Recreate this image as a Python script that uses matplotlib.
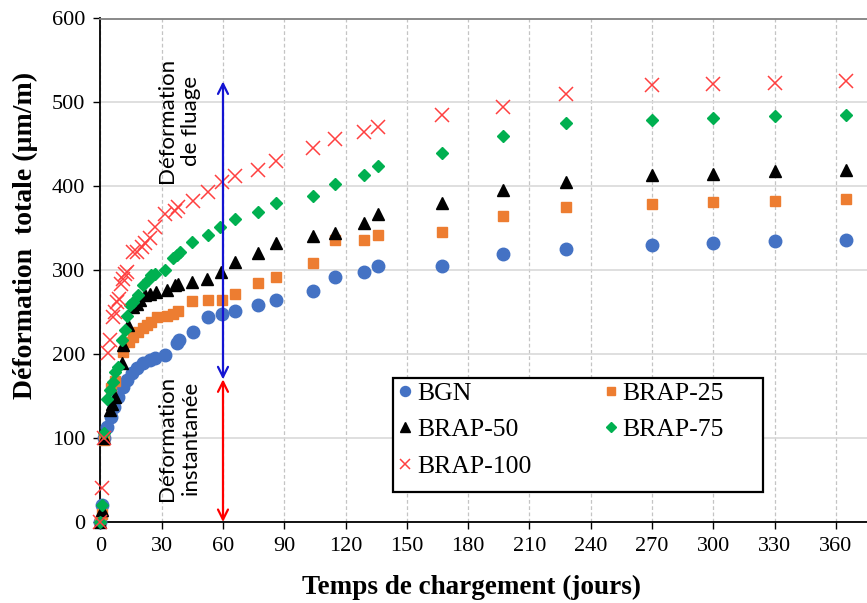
import matplotlib
matplotlib.use("Agg")
import matplotlib.pyplot as plt
from matplotlib.patches import Rectangle

# ---- data: total strain (µm/m) vs loading time (days) ----
days_bgn = [0, 1, 2, 3.4, 5, 6.8, 8.8, 11.2, 12.9, 15.3, 17.8, 21, 24.3, 26.7, 31.6,
            37.3, 38.6, 45.2, 52.8, 59.7, 66, 77, 86, 104, 115, 129, 136, 167, 197,
            228, 270, 300, 330, 365]
bgn = [0, 20, 100, 113, 125, 137, 149, 161, 169, 177, 183, 189, 193, 196, 199,
       213, 217, 226, 244, 248, 252, 259, 265, 275, 292, 298, 305, 305, 319,
       325, 330, 332, 335, 336]

days_25 = [0, 1, 2, 5, 7, 11, 14, 16, 18.5, 21, 22.6, 25, 27.5, 32.4, 35.7, 38,
           44.7, 52.8, 59.4, 66, 77, 86, 104, 115, 129, 136, 167, 197, 228, 270,
           300, 330, 365]
brap25 = [0, 10, 98, 160, 168, 203, 215, 221, 227, 231, 235, 238, 244, 246, 248, 252,
          263, 265, 265, 272, 285, 292, 309, 336, 336, 342, 346, 365, 375, 379,
          381, 383, 385]

days_50 = [0, 1, 2, 4.7, 5.5, 7, 10.4, 11.2, 13.3, 15.8, 17.8, 19.4, 21.8, 24.3, 27,
           32.4, 36.5, 38, 44.7, 52, 59, 66, 77, 86, 104, 115, 129, 136, 167, 197,
           228, 270, 300, 330, 365]
brap50 = [0, 14, 100, 133, 141, 149, 189, 211, 235, 256, 260, 264, 270, 272, 274,
          276, 282, 284, 286, 289, 298, 310, 321, 332, 341, 344, 356, 367, 380, 396,
          405, 414, 415, 418, 419]

days_75 = [0, 1, 2, 3.4, 4.7, 6, 7.1, 8.8, 10.4, 12, 12.9, 14.5, 16, 18.5, 21, 23.4,
           25, 26.7, 31.6, 35.7, 37.6, 39, 44.7, 52.8, 58.5, 66, 77, 86, 104, 115,
           129, 136, 167, 197, 228, 270, 300, 330, 365]
brap75 = [0, 20, 106, 147, 157, 167, 179, 185, 217, 229, 246, 258, 262, 270, 282, 288,
          294, 296, 300, 315, 318, 322, 334, 342, 351, 361, 369, 380, 388, 403,
          414, 424, 440, 460, 475, 479, 481, 484, 485]

days_100 = [0, 1, 2, 3.9, 4.7, 6.3, 7, 8, 9, 10, 11, 12, 13, 16, 17.8, 20.2, 22,
            24.3, 26.7, 31.6, 36.5, 38, 45.5, 52.8, 59.4, 66, 77, 86, 104, 115, 129,
            136, 167, 197, 228, 270, 300, 330, 365]
brap100 = [0, 40, 100, 201, 217, 244, 250, 262, 266, 284, 290, 296, 298, 322, 322,
           328, 333, 338, 352, 367, 371, 375, 383, 393, 405, 412, 420, 430, 446, 456,
           465, 471, 485, 495, 510, 521, 522, 523, 526]

x_ticks = list(range(0, 361, 30))
y_ticks = list(range(0, 601, 100))

# strain split at 60 days: instantaneous part and creep part
split_day = 60
instant_top = 170
creep_top = 525

serif = "Liberation Serif"
sans = "Lato"

W, H = 867, 603
fig = plt.figure(figsize=(W / 100, H / 100), dpi=100)
ax = fig.add_axes([100.4 / W, 1 - 522 / H, 1 - 100.4 / W, (522 - 18.5) / H])

ax.set_xlim(0, 375.2)
ax.set_ylim(0, 600)

# grid: solid horizontal, dashed vertical
ax.set_axisbelow(True)
ax.yaxis.grid(True, color="#d9d9d9", lw=1.2, ls="-")
ax.xaxis.grid(True, color="#c4c4c4", lw=0.9, ls=(0, (3, 2)))

ax.set_xticks(x_ticks)
ax.set_yticks(y_ticks)
ax.tick_params(axis="both", direction="out", length=5, width=1, color="black",
               labelsize=16, pad=6)
for lab in ax.get_xticklabels() + ax.get_yticklabels():
    lab.set_fontfamily(serif)

ax.spines["right"].set_visible(False)
ax.spines["top"].set_color("#808080")
ax.spines["top"].set_linewidth(1.3)
for side in ("left", "bottom"):
    ax.spines[side].set_color("black")
    ax.spines[side].set_linewidth(1.3)

kw = dict(ls="none", clip_on=False, zorder=3)
h_bgn, = ax.plot(days_bgn, bgn, marker="o", ms=9, color="#4472C4", mec="#4472C4", label="BGN", **kw)
h_25, = ax.plot(days_25, brap25, marker="s", ms=7.5, color="#ED7D31", mec="#ED7D31", label="BRAP-25", **kw)
h_50, = ax.plot(days_50, brap50, marker="^", ms=8.5, color="black", mec="black", label="BRAP-50", **kw)
h_75, = ax.plot(days_75, brap75, marker="D", ms=6.3, color="#00B050", mec="#00B050", label="BRAP-75", **kw)
h_100, = ax.plot(days_100, brap100, marker="x", ms=9.5, color="#FF4040", mew=1.1, label="BRAP-100", **kw)

# double arrows for instantaneous and creep strain
ax.annotate("", xy=(split_day, creep_top), xytext=(split_day, instant_top),
            arrowprops=dict(arrowstyle="<->", color="#1414D2", lw=1.6,
                            mutation_scale=18, shrinkA=0, shrinkB=0), zorder=4)
ax.annotate("", xy=(split_day, 0), xytext=(split_day, instant_top),
            arrowprops=dict(arrowstyle="<->", color="#FF0000", lw=1.6,
                            mutation_scale=18, shrinkA=0, shrinkB=0), zorder=4)

ax.text(38.5, 478, "Déformation\nde fluage", rotation=90, ha="center", va="center",
        fontsize=16, fontfamily=sans, linespacing=1.25, zorder=5)
ax.text(38.5, 100, "Déformation\ninstantanée", rotation=90, ha="center", va="center",
        fontsize=16, fontfamily=sans, linespacing=1.25, zorder=5)

ax.set_xlabel("Temps de chargement (jours)", fontfamily=serif, fontsize=19.5,
              fontweight="bold", labelpad=9)
ax.xaxis.set_label_coords((471 - 100.4) / (W - 100.4), -0.105)
ax.set_ylabel("Déformation  totale (µm/m)", fontfamily=serif, fontsize=20,
              fontweight="bold", labelpad=8)
ax.yaxis.set_label_coords(-0.081, (522 - 235) / (522 - 18.5))

# legend box drawn as a fixed white panel, entries laid out inside it
box = Rectangle((393 / W, 1 - 492 / H), (763 - 393) / W, (492 - 378) / H,
                transform=fig.transFigure, facecolor="white", edgecolor="black",
                lw=1.6, zorder=5)
fig.patches.append(box)

leg = fig.legend([h_bgn, h_50, h_100, h_25, h_75],
                 ["BGN", "BRAP-50", "BRAP-100", "BRAP-25", "BRAP-75"],
                 ncol=2, loc="upper left",
                 bbox_to_anchor=(390 / W, 1 - 377 / H), bbox_transform=fig.transFigure,
                 prop={"family": serif, "size": 18.5}, frameon=False,
                 borderpad=0.2, handletextpad=0.05, handlelength=0.8,
                 columnspacing=2.7, labelspacing=0.52, markerscale=0.8,
                 borderaxespad=0)
leg.set_zorder(6)

fig.savefig("out.png", dpi=100)
